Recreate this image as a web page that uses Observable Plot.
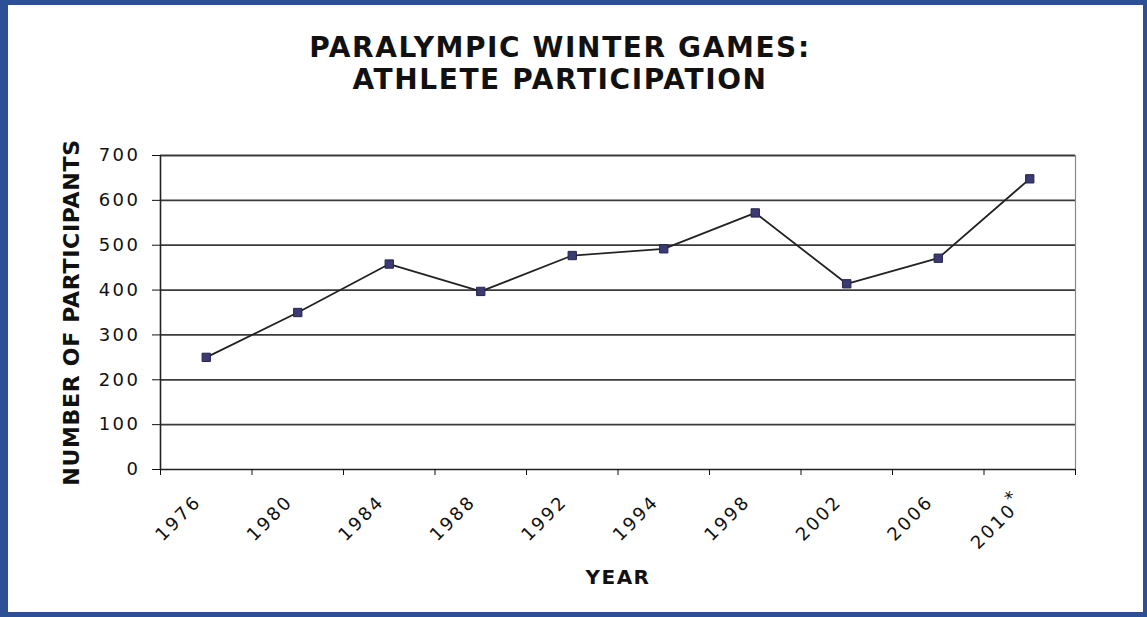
<!DOCTYPE html>
<html><head><meta charset="utf-8">
<script src="https://cdn.jsdelivr.net/npm/d3@7"></script>
<script src="https://cdn.jsdelivr.net/npm/@observablehq/plot@0.6"></script>
<style>
html,body{margin:0;padding:0;background:#fff;}
#page{position:relative;width:1147px;height:617px;overflow:hidden;}
#frame{position:absolute;left:0;top:0;width:1147px;height:617px;box-sizing:border-box;border-style:solid;border-color:#2d4f96;border-width:5px 4px 5px 8px;}
#title{position:absolute;left:0;top:32px;width:1120px;text-align:center;font-family:"DejaVu Sans";font-weight:bold;font-size:28px;line-height:32px;letter-spacing:1.6px;color:#111;margin:0;}
#chart{position:absolute;left:8px;top:110px;}
#chart svg{font-family:"DejaVu Sans";}
g[aria-label="y-axis label"] text{font-weight:bold;font-size:22px;letter-spacing:0.7px;}
g[aria-label="x-axis label"] text{font-weight:bold;font-size:20px;letter-spacing:1.5px;}
g[aria-label="y-axis tick label"] text, g[aria-label="x-axis tick label"] text{letter-spacing:2.5px;}
</style></head>
<body>
<div id="page">
  <div id="frame"></div>
  <div id="title">PARALYMPIC WINTER GAMES:<br>ATHLETE PARTICIPATION</div>
  <div id="chart"></div>
</div>
<script>
const years = ["1976","1980","1984","1988","1992","1994","1998","2002","2006","2010*"];
const participants = [250, 350, 458, 397, 477, 492, 572, 414, 471, 648];
const yTicks = [0, 100, 200, 300, 400, 500, 600, 700];

const data = years.map((year, i) => ({year, i, participants: participants[i]}));
const pos = d => d.i + 0.5;

const chart = Plot.plot({
  width: 1135, height: 502,
  marginLeft: 152, marginRight: 68, marginTop: 45, marginBottom: 143,
  style: {fontFamily: "DejaVu Sans", fontSize: "18px", color: "#111", background: "transparent", overflow: "visible"},
  x: {type: "linear", domain: [0, years.length]},
  y: {domain: [0, 700]},
  marks: [
    Plot.gridY(yTicks.slice(1), {stroke: "#3a3a3a", strokeOpacity: 1, strokeWidth: 1.8}),
    Plot.ruleX([years.length], {stroke: "#888", strokeWidth: 1.2}),
    Plot.axisY({ticks: yTicks, tickSize: 8, tickPadding: 12, tickFormat: d => String(d),
      label: "NUMBER OF PARTICIPANTS", labelAnchor: "center", labelArrow: "none", labelOffset: 97}),
    Plot.ruleY([0], {stroke: "#222", strokeWidth: 1.6}),
    Plot.ruleX([0], {stroke: "#222", strokeWidth: 1.6}),
    Plot.axisX({ticks: d3.range(0, years.length + 1), tickSize: 6, tickFormat: () => "", label: null}),
    Plot.axisX({ticks: data.map(pos), tickSize: 0, tickPadding: 29, dx: -8, tickRotate: -45,
      tickFormat: v => years[Math.round(v - 0.5)],
      label: "YEAR", labelAnchor: "center", labelArrow: "none", labelOffset: 114}),
    Plot.line(data, {x: pos, y: "participants", stroke: "#222", strokeWidth: 1.8}),
    Plot.dot(data, {x: pos, y: "participants", symbol: "square", r: 4.7, fill: "#3c3a73", stroke: "#26244d", strokeWidth: 1})
  ]
});

d3.select(chart).selectAll('g[aria-label="x-axis tick label"] text').each(function () {
  const t = d3.select(this);
  if (t.text() === "2010*") {
    t.text("2010");
    t.append("tspan").attr("dy", "-0.45em").text("*");
  }
});

document.getElementById("chart").appendChild(chart);
</script>
</body></html>
